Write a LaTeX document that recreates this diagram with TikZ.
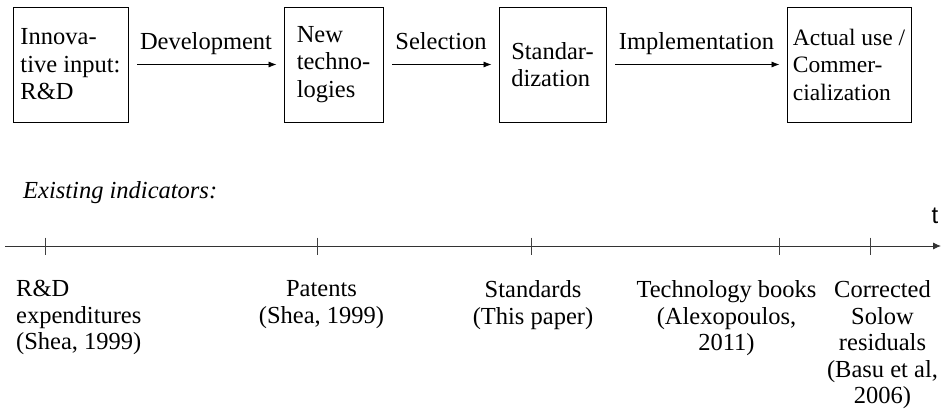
\documentclass[tikz,border=0pt]{standalone}
\usepackage{fontspec}
\setmainfont{Liberation Serif}
\newfontfamily\axisfont{Liberation Sans}
\usetikzlibrary{arrows.meta}

\tikzset{
  stage/.style={draw=black, line width=0.9pt, minimum height=115pt,
    inner sep=0pt, align=left, font=\fontsize{24.5}{27.5}\selectfont},
  flow/.style={line width=0.8pt, -{Latex[length=8pt,width=6pt]},
    shorten <=9pt, shorten >=7pt},
  flowlabel/.style={anchor=base, yshift=15pt, inner sep=0pt,
    font=\fontsize{24.5}{27}\selectfont},
  timeaxis/.style={draw=black!80, line width=0.9pt,
    -{Latex[length=8pt,width=7pt]}},
  tickmark/.style={draw=black!75, line width=0.9pt},
  indicator/.style={anchor=north, inner sep=0pt, align=center,
    font=\fontsize{24.5}{26.5}\selectfont},
}

\begin{document}
\begin{tikzpicture}[x=1pt, y=-1pt]
  \useasboundingbox (0,0) rectangle (941,414);

  % process stages
  \node[stage, minimum width=115pt] (input) at (70.5,64.5)
    {Innova-\\tive input:\\R\&D};
  \node[stage, minimum width=99pt] (newtech) at (333.5,64.5)
    {New\\techno-\\logies};
  \node[stage, minimum width=107pt] (std) at (552.5,64.5)
    {Standar-\\dization};
  \node[stage, minimum width=124pt, font=\fontsize{23.5}{27.5}\selectfont]
    (use) at (849,64.5)
    {Actual use /\\Commer-\\cialization};

  % transitions between stages
  \draw[flow] (input.east) -- node[flowlabel] (dev) {Development} (newtech.west);
  \draw[flow] (newtech.east) -- node[flowlabel] (sel) {Selection} (std.west);
  \draw[flow] (std.east) -- node[flowlabel] (impl) {Implementation} (use.west);

  % time axis with indicators
  \node[anchor=base west, inner sep=0pt, font=\fontsize{24.5}{27}\selectfont\itshape]
    (existing) at (23,198) {Existing indicators:};

  \coordinate (axstart) at (5,246);
  \coordinate (axend) at (941,246);
  \draw[timeaxis] (axstart) -- (axend);
  \node[inner sep=0pt, font=\axisfont\fontsize{24}{27}\selectfont]
    (tlabel) at (935,216) {t};

  \foreach \name/\xpos in {t1/45.7, t2/317.7, t3/531.7, t4/779, t5/870}{
    \coordinate (\name) at (\xpos,246);
    \draw[tickmark] ([yshift=8.5pt]\name) -- ([yshift=-8.5pt]\name);
  }

  \node[indicator, anchor=north west, align=left] (rd) at (16,280.5)
    {R\&D\\expenditures\\(Shea, 1999)};
  \node[indicator] (pat) at (321.5,280.5) {Patents\\(Shea, 1999)};
  \node[indicator] (stds) at (533,280.5) {Standards\\(This paper)};
  \node[indicator] (books) at (726.5,280.5)
    {Technology books\\(Alexopoulos,\\2011)};
  \node[indicator] (solow) at (882.5,280.5)
    {Corrected\\Solow\\residuals\\(Basu et al,\\2006)};
\end{tikzpicture}
\end{document}
